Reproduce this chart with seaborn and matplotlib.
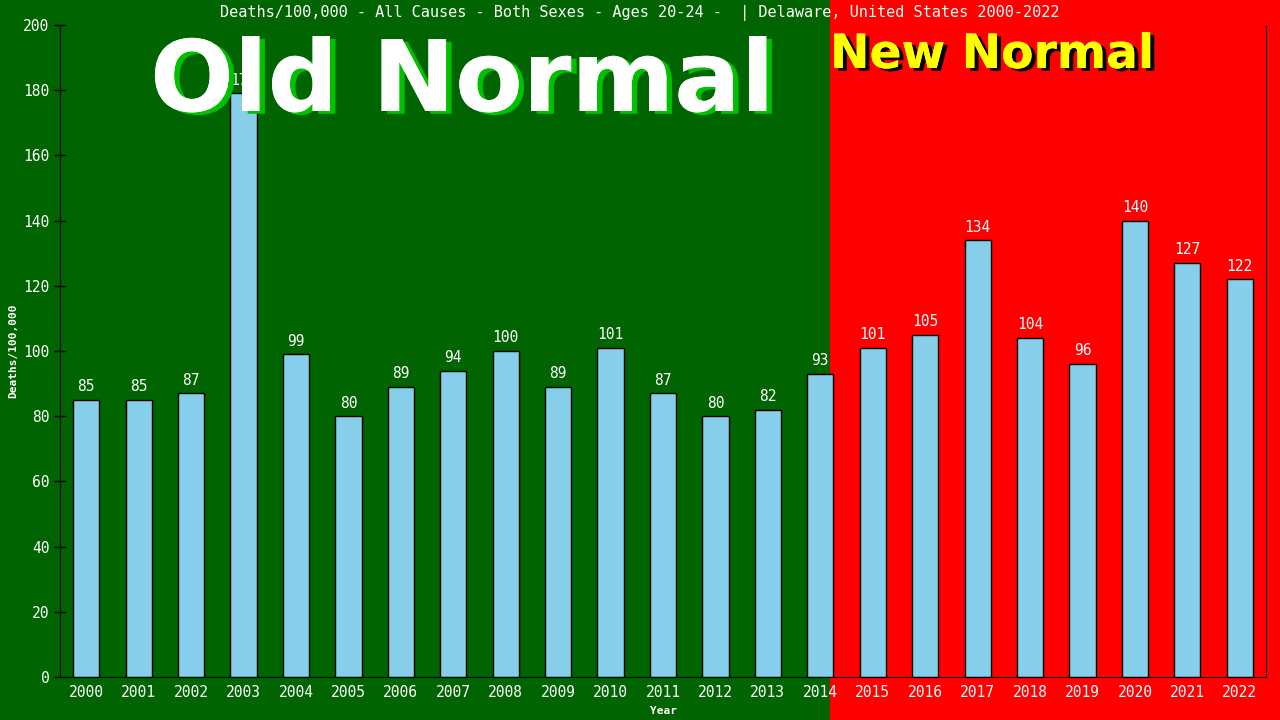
import seaborn as sns
import matplotlib.pyplot as plt
import matplotlib.patheffects as pe
from matplotlib.patches import Rectangle

years = [str(y) for y in range(2000, 2023)]
deaths = [85, 85, 87, 179, 99, 80, 89, 94, 100, 89, 101, 87, 80, 82,
          93, 101, 105, 134, 104, 96, 140, 127, 122]
y_ticks = list(range(0, 201, 20))

title = 'Deaths/100,000 - All Causes - Both Sexes - Ages 20-24 -  | Delaware, United States 2000-2022'

sns.set_style('ticks')
plt.rcParams['font.family'] = ['DejaVu Sans Mono']

fig = plt.figure(figsize=(12.8, 7.2), dpi=100, facecolor='#006400')
# red "new normal" band over the whole right part of the figure
fig.patches.append(Rectangle((830 / 1280, 0), 1 - 830 / 1280, 1,
                             transform=fig.transFigure, color='#ff0000', zorder=-1))

ax = fig.add_axes([60 / 1280, 43 / 720, 1206 / 1280, 652 / 720])
ax.set_facecolor('none')

sns.barplot(x=years, y=deaths, color='#87ceeb', saturation=1, width=0.5,
            edgecolor='black', linewidth=1, ax=ax)
ax.bar_label(ax.containers[0], labels=[str(v) for v in deaths],
             padding=4, color='white', fontsize=10.5)

ax.set_xlim(-0.5, 22.5)
ax.set_ylim(0, 200)
ax.set_yticks(y_ticks)
ax.tick_params(axis='y', colors='black', labelcolor='white', labelsize=10.5,
               direction='inout', length=8, width=1)
ax.tick_params(axis='x', length=0, labelcolor='white', labelsize=10.5, pad=6)
for side in ['left', 'bottom', 'right']:
    ax.spines[side].set_visible(True)
    ax.spines[side].set_color('black')
ax.spines['top'].set_visible(False)

ax.set_xlabel('Year', color='white', fontsize=8, fontweight='bold', labelpad=4)
ax.set_ylabel('Deaths/100,000', color='white', fontsize=8, fontweight='bold')
ax.yaxis.set_label_coords(-0.035, 0.5)

fig.text(0.5, 1 - 13 / 720, title, color='white', fontsize=11,
         ha='center', va='center')

fig.text(150 / 1280, 1 - 111 / 720, 'Old Normal', family='DejaVu Sans',
         fontweight='bold', fontsize=71, color='white', ha='left', va='baseline',
         zorder=5,
         path_effects=[pe.withSimplePatchShadow(offset=(4, -2), shadow_rgbFace='#00c000', alpha=1),
                       pe.Normal()])
fig.text(830 / 1280, 1 - 68 / 720, 'New Normal', family='DejaVu Sans',
         fontweight='bold', fontsize=34, color='#ffff00', ha='left', va='baseline',
         zorder=5,
         path_effects=[pe.withSimplePatchShadow(offset=(3, -2), shadow_rgbFace='black', alpha=1),
                       pe.Normal()])

fig.savefig('out.png', dpi=100, facecolor=fig.get_facecolor())
